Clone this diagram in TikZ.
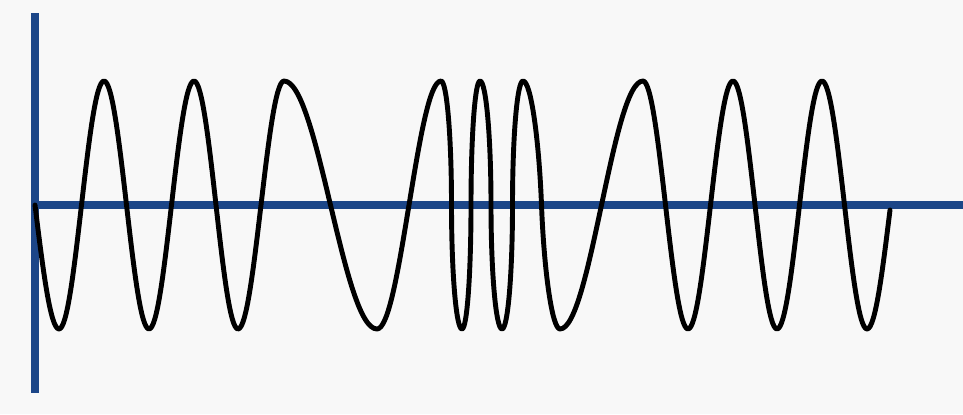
\documentclass[tikz,border=0pt]{standalone}
\usepackage{tikz}

\definecolor{axisblue}{RGB}{28,70,136}
\definecolor{paper}{RGB}{248,248,248}

\begin{document}
\begin{tikzpicture}[
    x=0.02cm, y=-0.02cm,
    axis/.style={draw=axisblue, line width=5pt},
    wave/.style={draw=black, line width=2.8pt, line join=round, line cap=round}
]

\fill[paper] (0,0) rectangle (963,414);
\useasboundingbox (0,0) rectangle (963,414);

\coordinate (top)    at (35,13);
\coordinate (bottom) at (35,393);
\coordinate (origin) at (35,205);
\coordinate (right)  at (963,205);

\draw[axis] (top) -- (bottom);
\draw[axis] (origin) -- (right);

% frequency modulated carrier
\draw[wave] (origin)
    sin (59,329) cos (81.5,205) sin (104,81) cos (126.5,205)
    sin (149,329) cos (171.5,205) sin (194,81) cos (216,205)
    sin (238,329) cos (261,205) sin (284,81) cos (330.5,205)
    sin (377,329) cos (409,205) sin (441,81)
    % narrow loops
    .. controls (446.8,81) and (451.5,136.5) .. (451.5,205)
    .. controls (451.5,273.5) and (456.2,329) .. (462,329)
    .. controls (467,329) and (471,273.5) .. (471,205)
    .. controls (471,136.5) and (475,81) .. (480,81)
    .. controls (486,81) and (491,136.5) .. (491,205)
    .. controls (491,273.5) and (496,329) .. (502,329)
    .. controls (507.8,329) and (512.5,273.5) .. (512.5,205)
    .. controls (512.5,136.5) and (517.2,81) .. (523,81)
    .. controls (531,81) and (539,140) .. (541.5,205)
    .. controls (544,270) and (552,329) .. (560,329)
    cos (601.5,205) sin (643,81) cos (665.5,205)
    sin (688,329) cos (710.5,205) sin (733,81) cos (755,205)
    sin (777,329) cos (799.5,205) sin (822,81) cos (844.5,205)
    sin (867,329) cos (890,210);

\end{tikzpicture}
\end{document}
